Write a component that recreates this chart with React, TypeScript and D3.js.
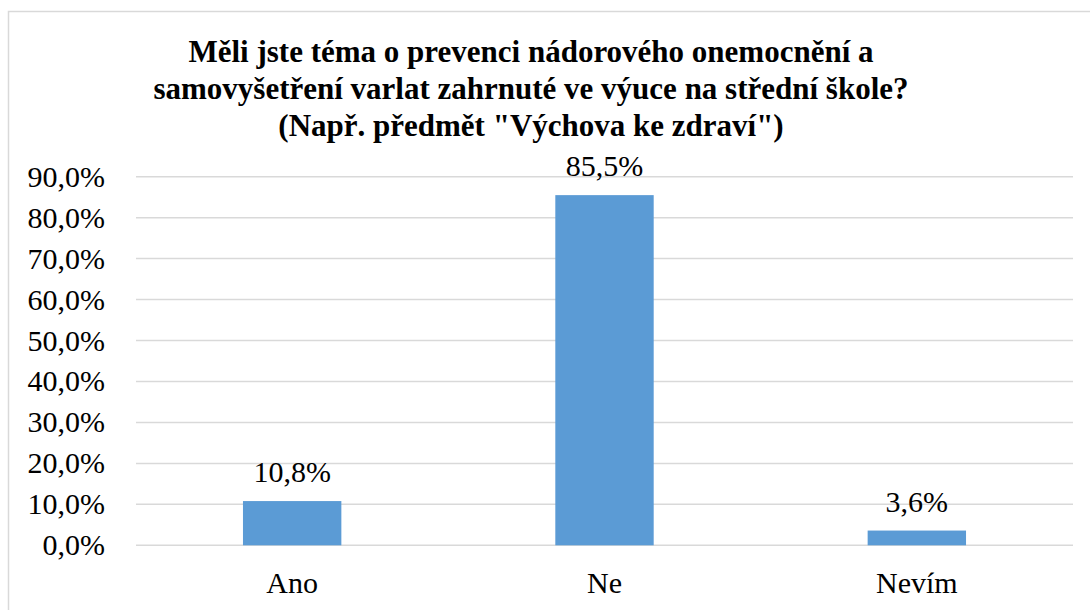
import React from "react";
import * as d3 from "d3";

const categories = ["Ano", "Ne", "Nevím"];
const values = [10.8, 85.5, 3.6];
const yTicks = [0, 10, 20, 30, 40, 50, 60, 70, 80, 90];
const titleLines = [
  "Měli jste téma o prevenci nádorového onemocnění a",
  "samovyšetření varlat zahrnuté ve výuce na střední škole?",
  "(Např. předmět \"Výchova ke zdraví\")",
];

const W = 1090;
const H = 610;
const plotLeft = 136;
const plotRight = 1073;
const plotTop = 176.7;
const plotBottom = 545.3;

const fmt = (v: number) => v.toFixed(1).replace(".", ",") + "%";

const textStyle: React.CSSProperties = { fontFamily: "'Liberation Serif', 'Times New Roman', serif" };

export default function App() {
  const x = d3.scaleBand<string>().domain(categories).range([plotLeft, plotRight]).padding(0);
  const y = d3.scaleLinear().domain([0, 90]).range([plotBottom, plotTop]);
  const barW = x.bandwidth() * 0.315;

  return (
    <svg
      width={W}
      height={H}
      style={{ position: "absolute", left: 0, top: 0, background: "#fff" }}
    >
      <rect x={8.5} y={11.5} width={W} height={H} fill="#fff" stroke="#d9d9d9" strokeWidth={1.5} />
      {titleLines.map((t, i) => (
        <text
          key={i}
          x={531}
          y={62 + i * 37}
          textAnchor="middle"
          style={{ ...textStyle, fontWeight: 700, fontSize: "31px" }}
          fill="#000"
        >
          {t}
        </text>
      ))}
      {yTicks.map((t) => (
        <g key={t}>
          <line
            x1={plotLeft}
            x2={plotRight}
            y1={y(t)}
            y2={y(t)}
            stroke="#d9d9d9"
            strokeWidth={1.5}
          />
          <text
            x={105}
            y={y(t) + 10}
            textAnchor="end"
            style={{ ...textStyle, fontSize: "30px" }}
            fill="#000"
          >
            {fmt(t)}
          </text>
        </g>
      ))}
      {categories.map((c, i) => {
        const cx = (x(c) as number) + x.bandwidth() / 2;
        return (
          <g key={c}>
            <rect
              x={cx - barW / 2}
              y={y(values[i])}
              width={barW}
              height={plotBottom - y(values[i])}
              fill="#5B9BD5"
            />
            <text
              x={cx}
              y={y(values[i]) - 19}
              textAnchor="middle"
              style={{ ...textStyle, fontSize: "30px" }}
              fill="#000"
            >
              {fmt(values[i])}
            </text>
            <text
              x={cx}
              y={593}
              textAnchor="middle"
              style={{ ...textStyle, fontSize: "30px" }}
              fill="#000"
            >
              {c}
            </text>
          </g>
        );
      })}
    </svg>
  );
}
